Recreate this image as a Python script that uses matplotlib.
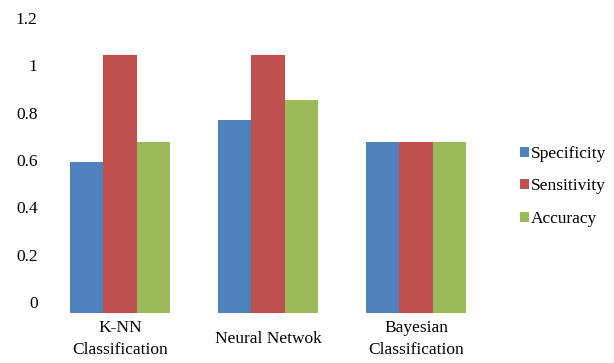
import matplotlib
matplotlib.use("Agg")
import matplotlib.pyplot as plt
import numpy as np

categories = ["K-NN\nClassification", "Neural Netwok", "Bayesian\nClassification"]
series_names = ["Specificity", "Sensitivity", "Accuracy"]
specificity = [0.585, 0.745, 0.66]
sensitivity = [1.0, 1.0, 0.66]
accuracy = [0.66, 0.826, 0.66]
y_ticks = [0, 0.2, 0.4, 0.6, 0.8, 1.0, 1.2]
y_tick_labels = ["0", "0.2", "0.4", "0.6", "0.8", "1", "1.2"]

colors = ["#4F81BD", "#C0504D", "#9BBB59"]

plt.rcParams["font.family"] = ["Liberation Serif", "DejaVu Serif"]

W, H = 614, 363
fig = plt.figure(figsize=(W / 100, H / 100), dpi=100)
rect = [46 / W, (H - 313) / H, 444 / W, (313 - 8) / H]
ax = fig.add_axes(rect)

x = np.arange(len(categories))
bw = 0.225
for i, (vals, name) in enumerate(zip([specificity, sensitivity, accuracy], series_names)):
    ax.bar(x + (i - 1) * bw, vals, width=bw, color=colors[i], label=name, linewidth=0)

ax.set_xlim(-0.5, len(categories) - 0.5)
ax.set_ylim(0, 1.18)
ax.set_yticks([])
ax.set_xticks(x, categories, fontsize=12.5, va="center", linespacing=1.5)
ax.tick_params(axis="x", length=0, pad=19)
for s in ax.spines.values():
    s.set_visible(False)

# value scale drawn on its own overlay axes, slightly compressed
sc = fig.add_axes(rect, frameon=False)
sc.patch.set_visible(False)
sc.set_ylim(-0.046, 1.242)
sc.set_xticks([])
sc.set_yticks(y_ticks, y_tick_labels, fontsize=12.5)
sc.tick_params(axis="y", length=0, pad=6)

fig.legend(*ax.get_legend_handles_labels(), loc="upper left",
           bbox_to_anchor=(520 / W, 1 - 146 / H),
           frameon=False, fontsize=12.5, handlelength=0.5, handleheight=0.5,
           handletextpad=0.1, labelspacing=0.95, borderpad=0, borderaxespad=0)

fig.savefig("out.png", dpi=100)
